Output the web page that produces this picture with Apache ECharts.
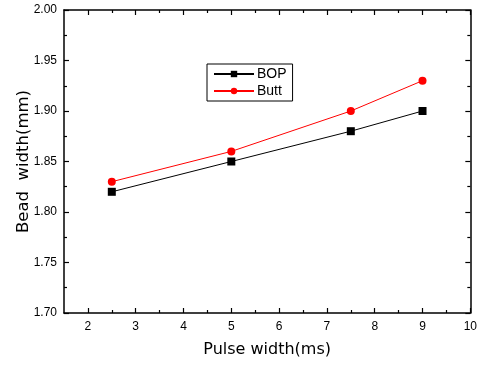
<!DOCTYPE html>
<html><head><meta charset="utf-8">
<script src="https://cdn.jsdelivr.net/npm/echarts@6/dist/echarts.min.js"></script>
<style>html,body{margin:0;padding:0;background:#fff}#c{width:480px;height:365px}</style>
</head><body><div id="c"></div>
<script>
var pulseWidth = [2.5, 5, 7.5, 9];
var bop = [1.82, 1.85, 1.88, 1.90];
var butt = [1.83, 1.86, 1.90, 1.93];
var xMajorTicks = [2, 3, 4, 5, 6, 7, 8, 9, 10];
var xMinorTicks = [2.5, 3.5, 4.5, 5.5, 6.5, 7.5, 8.5, 9.5];

var FONT = 'Liberation Sans';
var NAMEFONT = 'DejaVu Sans';
var chart = echarts.init(document.getElementById('c'));
function xa(pos, showLine, ticks, len, labels) {
  return {
    type: 'value', position: pos, min: 1.5, max: 10,
    axisLine: {show: showLine, onZero: false, lineStyle: {color: '#000', width: 1.5}},
    axisTick: {show: true, inside: true, length: len, customValues: ticks, lineStyle: {color: '#000', width: 1.2}},
    axisLabel: labels ? {show: true, customValues: xMajorTicks, color: '#000', fontFamily: FONT, fontSize: 12, margin: 8} : {show: false},
    splitLine: {show: false}
  };
}
var xAxes = [
  xa('bottom', true, xMajorTicks, 5, true),
  xa('bottom', false, xMinorTicks, 3, false),
  xa('top', true, xMajorTicks, 5, false),
  xa('top', false, xMinorTicks, 3, false)
];
xAxes[0].name = 'Pulse width(ms)';
xAxes[0].nameLocation = 'middle';
xAxes[0].nameGap = 29;
xAxes[0].nameMoveOverlap = false;
xAxes[0].nameTextStyle = {color: '#000', fontFamily: NAMEFONT, fontSize: 16};
function ya(pos, labels) {
  return {
    type: 'value', position: pos, min: 1.7, max: 2.0, interval: 0.05,
    axisLine: {show: true, onZero: false, lineStyle: {color: '#000', width: 1.5}},
    axisTick: {show: true, inside: true, length: 5, lineStyle: {color: '#000', width: 1.2}},
    minorTick: {show: true, splitNumber: 2, length: 3, lineStyle: {color: '#000', width: 1.2}},
    axisLabel: labels ? {show: true, color: '#000', fontFamily: FONT, fontSize: 12, margin: 7, formatter: function(v){return v.toFixed(2);}} : {show: false},
    splitLine: {show: false}
  };
}
var yAxes = [ya('left', true), ya('right', false)];
yAxes[0].name = 'Bead  width(mm)';
yAxes[0].nameLocation = 'middle';
yAxes[0].nameGap = 32;
yAxes[0].nameMoveOverlap = false;
yAxes[0].nameTextStyle = {color: '#000', fontFamily: NAMEFONT, fontSize: 16.5};

chart.setOption({
  animation: false,
  grid: {left: 64, right: 7, top: 10, bottom: 52},
  legend: {
    left: 207, top: 64, orient: 'vertical',
    data: ['BOP', 'Butt'],
    itemWidth: 40, itemHeight: 8, itemGap: 3,
    padding: [3, 6, 3, 6],
    borderColor: '#000', borderWidth: 1, borderRadius: 0,
    textStyle: {color: '#000', fontFamily: FONT, fontSize: 14, padding: [0,0,0,-2]}
  },
  xAxis: xAxes,
  yAxis: yAxes,
  series: [
    {name: 'BOP', type: 'line', xAxisIndex: 0, yAxisIndex: 0,
     data: pulseWidth.map(function(x,i){return [x, bop[i]];}),
     symbol: 'rect', symbolSize: 8, color: '#000',
     lineStyle: {color: '#000', width: 1}, itemStyle: {color: '#000'}},
    {name: 'Butt', type: 'line', xAxisIndex: 0, yAxisIndex: 0,
     data: pulseWidth.map(function(x,i){return [x, butt[i]];}),
     symbol: 'circle', symbolSize: 8, color: '#ff0000',
     lineStyle: {color: '#ff0000', width: 1}, itemStyle: {color: '#ff0000'}}
  ]
});
</script></body></html>
